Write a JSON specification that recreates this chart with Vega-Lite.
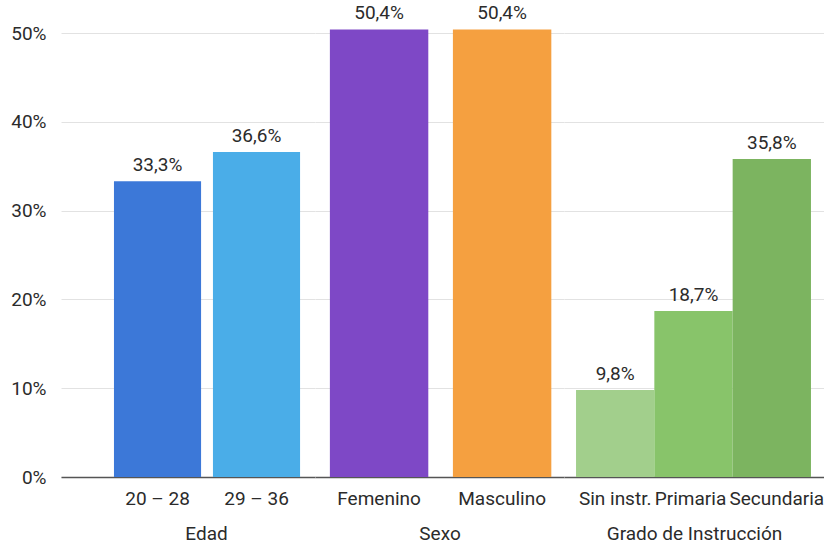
{
  "$schema": "https://vega.github.io/schema/vega-lite/v6.json",
  "padding": {"left": 10, "top": 4, "right": 0, "bottom": 0},
  "background": "white",
  "datasets": {
    "edad": [
      {"categoria": "20 – 28", "porcentaje": 0.333},
      {"categoria": "29 – 36", "porcentaje": 0.366}
    ],
    "sexo": [
      {"categoria": "Femenino", "porcentaje": 0.504},
      {"categoria": "Masculino", "porcentaje": 0.504}
    ],
    "grado": [
      {"categoria": "Sin instr.", "porcentaje": 0.098},
      {"categoria": "Primaria", "porcentaje": 0.187},
      {"categoria": "Secundaria", "porcentaje": 0.358}
    ]
  },
  "spacing": 0,
  "hconcat": [
    {
      "width": 254,
      "height": 444,
      "data": {"name": "edad"},
      "encoding": {
        "x": {
          "field": "categoria", "type": "nominal", "sort": null,
          "scale": {"paddingInner": 0.12, "paddingOuter": 0.343, "align": 0.78},
          "axis": {"title": "Edad", "titleX": 145}
        },
        "y": {
          "field": "porcentaje", "type": "quantitative",
          "scale": {"domain": [0, 0.5], "nice": false},
          "axis": {"values": [0, 0.1, 0.2, 0.3, 0.4, 0.5], "format": ".0%", "labelPadding": 15}
        }
      },
      "layer": [
        {
          "mark": {"type": "bar"},
          "encoding": {
            "color": {
              "field": "categoria", "type": "nominal", "legend": null,
              "scale": {
                "domain": ["20 – 28", "29 – 36", "Femenino", "Masculino", "Sin instr.", "Primaria", "Secundaria"],
                "range": ["#3c78d8", "#4aade8", "#7e48c6", "#f5a040", "#a2cf8c", "#88c46a", "#7cb460"]
              }
            }
          }
        },
        {
          "mark": {"type": "text", "baseline": "alphabetic", "dy": -10, "fontSize": 19, "color": "#2b2b2b"},
          "encoding": {"text": {"field": "porcentaje", "format": ".1%"}}
        }
      ]
    },
    {
      "width": 249,
      "height": 444,
      "data": {"name": "sexo"},
      "encoding": {
        "x": {
          "field": "categoria", "type": "nominal", "sort": null,
          "scale": {"paddingInner": 0.2, "paddingOuter": 0.112, "align": 0.54},
          "axis": {"title": "Sexo"}
        },
        "y": {
          "field": "porcentaje", "type": "quantitative",
          "scale": {"domain": [0, 0.5], "nice": false},
          "axis": {"values": [0, 0.1, 0.2, 0.3, 0.4, 0.5], "labels": false, "title": null}
        }
      },
      "layer": [
        {
          "mark": {"type": "bar"},
          "encoding": {
            "color": {
              "field": "categoria", "type": "nominal", "legend": null,
              "scale": {
                "domain": ["20 – 28", "29 – 36", "Femenino", "Masculino", "Sin instr.", "Primaria", "Secundaria"],
                "range": ["#3c78d8", "#4aade8", "#7e48c6", "#f5a040", "#a2cf8c", "#88c46a", "#7cb460"]
              }
            }
          }
        },
        {
          "mark": {"type": "text", "baseline": "alphabetic", "dy": -10, "fontSize": 19, "color": "#2b2b2b"},
          "encoding": {"text": {"field": "porcentaje", "format": ".1%"}}
        }
      ]
    },
    {
      "width": 260,
      "height": 444,
      "data": {"name": "grado"},
      "encoding": {
        "x": {
          "field": "categoria", "type": "nominal", "sort": null,
          "scale": {"paddingInner": 0, "paddingOuter": 0.16, "align": 0.48},
          "axis": {
            "title": "Grado de Instrucción",
            "labelOffset": {
              "condition": [
                {"test": "datum.value === 'Secundaria'", "value": 5},
                {"test": "datum.value === 'Primaria'", "value": -3}
              ],
              "value": 0
            }
          }
        },
        "y": {
          "field": "porcentaje", "type": "quantitative",
          "scale": {"domain": [0, 0.5], "nice": false},
          "axis": {"values": [0, 0.1, 0.2, 0.3, 0.4, 0.5], "labels": false, "title": null}
        }
      },
      "layer": [
        {
          "mark": {"type": "bar"},
          "encoding": {
            "color": {
              "field": "categoria", "type": "nominal", "legend": null,
              "scale": {
                "domain": ["20 – 28", "29 – 36", "Femenino", "Masculino", "Sin instr.", "Primaria", "Secundaria"],
                "range": ["#3c78d8", "#4aade8", "#7e48c6", "#f5a040", "#a2cf8c", "#88c46a", "#7cb460"]
              }
            }
          }
        },
        {
          "mark": {"type": "text", "baseline": "alphabetic", "dy": -10, "fontSize": 19, "color": "#2b2b2b"},
          "encoding": {"text": {"field": "porcentaje", "format": ".1%"}}
        }
      ]
    }
  ],
  "config": {
    "locale": {
      "number": {"decimal": ",", "thousands": ".", "grouping": [3], "currency": ["", " €"]}
    },
    "font": "Roboto",
    "view": {"stroke": null},
    "axis": {
      "labelFont": "Roboto",
      "labelFontSize": 19,
      "labelColor": "#2b2b2b",
      "titleFont": "Roboto",
      "titleFontSize": 19,
      "titleFontWeight": "normal",
      "titleColor": "#2b2b2b",
      "ticks": false,
      "tickSize": 0
    },
    "axisX": {
      "labelAngle": 0,
      "labelPadding": 12,
      "labelOverlap": false,
      "labelBound": false,
      "labelLimit": 0,
      "titlePadding": 16,
      "domainColor": "#555555",
      "domainWidth": 1.5,
      "grid": false
    },
    "axisY": {
      "domain": false,
      "grid": true,
      "gridColor": "#e2e2e2",
      "gridWidth": 1,
      "title": null
    }
  }
}
